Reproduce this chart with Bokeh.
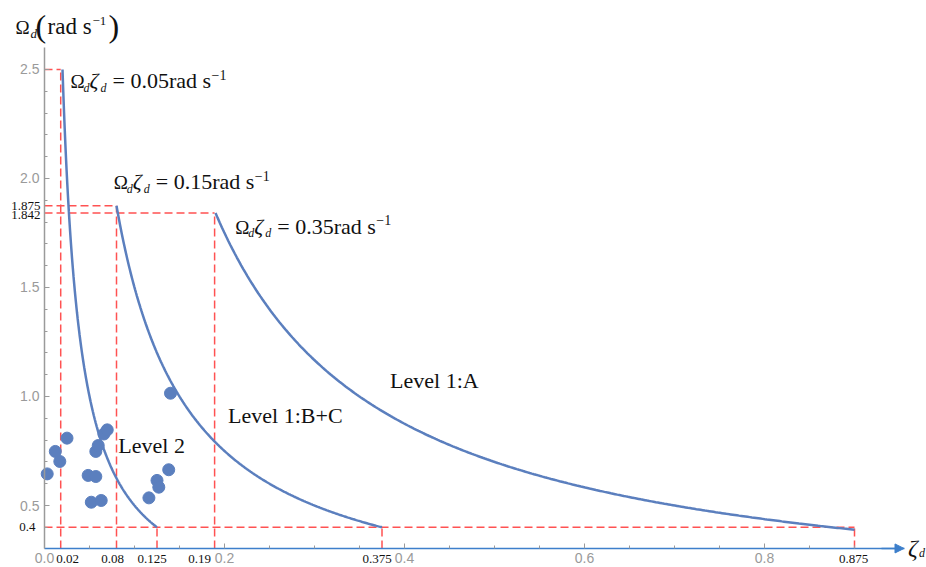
import numpy as np
from bokeh.plotting import figure
from bokeh.models import Range1d, FixedTicker, PrintfTickFormatter, Label, Arrow, NormalHead
from bokeh.embed import file_html
from bokeh.resources import INLINE

# ---------------- data ----------------
products = [0.05, 0.15, 0.35]            # Omega_d * zeta_d  (rad/s)
curve_zeta_start = [0.02, 0.08, 0.19]
curve_zeta_end = [0.125, 0.375, 0.9]

point_zeta = [0.003, 0.012, 0.017, 0.025, 0.0485, 0.057, 0.052, 0.063,
              0.057, 0.0597, 0.066, 0.0697, 0.116, 0.125, 0.127, 0.138, 0.140]
point_omega = [0.645, 0.748, 0.702, 0.809, 0.638, 0.633, 0.515, 0.523,
               0.748, 0.775, 0.828, 0.847, 0.535, 0.615, 0.584, 0.664, 1.015]

ref_v_zeta = [0.018, 0.08, 0.189, 0.125, 0.375, 0.9]
ref_v_top = [2.5, 1.875, 1.842, 0.4, 0.4, 0.4]
ref_h_omega = [2.5, 1.875, 1.842, 0.4]
ref_h_end = [0.018, 0.08, 0.189, 0.9]

x_ticks = [0.0, 0.2, 0.4, 0.6, 0.8]
x_minor = [0.05, 0.1, 0.15, 0.25, 0.3, 0.35, 0.45, 0.5, 0.55, 0.65, 0.7, 0.75, 0.85, 0.9]
y_ticks = [0.5, 1.0, 1.5, 2.0, 2.5]
y_minor = [0.4, 0.6, 0.7, 0.8, 0.9, 1.1, 1.2, 1.3, 1.4, 1.6, 1.7, 1.8, 1.9, 2.1, 2.2, 2.3, 2.4]

x_ref_labels = ["0.02", "0.08", "0.19", "0.125", "0.375", "0.875"]
y_ref_values = [1.875, 1.842, 0.4]
y_ref_labels = ["1.875", "1.842", "0.4"]

# axis extents
AX_X0, AX_X1 = 0.0, 0.955
AX_Y0, AX_Y1 = 0.303, 2.6

BLUE = "#5b7fbe"
AXIS_BLUE = "#3d7fcb"
RED = "#ff5252"
GRAY = "#9a9a9a"
SERIF = "Liberation Serif"

p = figure(width=926, height=567, output_backend="svg", toolbar_location=None,
           x_range=Range1d(-0.0489, 0.98), y_range=Range1d(0.2156, 2.8165),
           min_border=0)
p.outline_line_color = None
p.grid.visible = False
p.background_fill_color = "white"

# axes (drawn inside the frame at fixed data locations)
p.xaxis.fixed_location = AX_Y0
p.yaxis.fixed_location = AX_X0
p.xaxis.bounds = (AX_X0, AX_X1)
p.yaxis.bounds = (AX_Y0, AX_Y1)
p.xaxis.ticker = FixedTicker(ticks=x_ticks, minor_ticks=x_minor)
p.yaxis.ticker = FixedTicker(ticks=y_ticks, minor_ticks=y_minor)
p.xaxis.formatter = PrintfTickFormatter(format="%.1f")
p.yaxis.formatter = PrintfTickFormatter(format="%.1f")
for ax in (p.xaxis, p.yaxis):
    ax.major_tick_out = 0
    ax.major_tick_in = 5
    ax.minor_tick_out = 0
    ax.minor_tick_in = 3
    ax.major_tick_line_color = GRAY
    ax.minor_tick_line_color = GRAY
    ax.major_label_text_color = GRAY
    ax.major_label_text_font = "Liberation Sans"
    ax.major_label_text_font_size = "14px"
    ax.major_label_standoff = 5
p.yaxis.axis_line_color = GRAY
p.yaxis.axis_line_width = 1.5
p.xaxis.axis_line_color = AXIS_BLUE
p.xaxis.axis_line_width = 1.5

# reference dashed lines
p.segment(x0=ref_v_zeta, y0=[AX_Y0] * len(ref_v_zeta), x1=ref_v_zeta, y1=ref_v_top,
          line_color=RED, line_width=1.5, line_dash="8 4")
p.segment(x0=[AX_X0] * len(ref_h_omega), y0=ref_h_omega, x1=ref_h_end, y1=ref_h_omega,
          line_color=RED, line_width=1.5, line_dash="8 4")

# curves Omega*zeta = const
for c, zs, ze in zip(products, curve_zeta_start, curve_zeta_end):
    z = np.linspace(zs, ze, 300)
    p.line(z, c / z, line_color=BLUE, line_width=2.5)

# points
p.scatter(point_zeta, point_omega, size=12, fill_color=BLUE, line_color=BLUE)

# x-axis arrow
p.add_layout(Arrow(end=NormalHead(size=9, fill_color=AXIS_BLUE, line_color=AXIS_BLUE),
                   x_start=0.93, y_start=AX_Y0, x_end=AX_X1, y_end=AX_Y0,
                   line_color=AXIS_BLUE, line_width=1.5))


def rich(x, y, parts, color="#111111", k=0.32):
    for txt, dx, dy, size, style in parts:
        p.add_layout(Label(x=x, y=y, x_offset=dx, y_offset=dy + round(k * size), text=txt,
                           text_font=SERIF, text_font_size=f"{size}px",
                           text_font_style=style, text_baseline="alphabetic",
                           text_color=color))


def eq(x, y, val):
    rich(x, y, [("Ω", 0, 0, 19, "normal"), ("d", 13, -4, 12, "italic"),
                ("ζ", 19, 0, 22, "italic"), ("d", 30, -4, 12, "italic"),
                (f"= {val}rad s", 42, 0, 22, "normal"), ("−1", 141, 9, 14, "normal")])


eq(0.029, 2.417, "0.05")
eq(0.077, 1.954, "0.15")
eq(0.212, 1.748, "0.35")

rich(0.384, 1.041, [("Level 1:A", 0, 0, 22, "normal")])
rich(0.204, 0.881, [("Level 1:B+C", 0, 0, 22, "normal")])
rich(0.082, 0.743, [("Level 2", 0, 0, 22, "normal")])

# y-axis title
rich(-0.0322, 2.665, [("Ω", 0, 0, 19, "normal"), ("d", 15, -4, 13, "italic"),
                      ("(", 20, -2, 32, "normal"), ("rad s", 32, 0, 23, "normal"),
                      ("−1", 77, 9, 13, "normal"), (")", 93, -2, 32, "normal")])

# x-axis title
rich(AX_X1, AX_Y0, [("ζ", 4, 0, 24, "italic"), ("d", 15, -5, 12, "italic")], k=0)

# hand-written reference tick labels
x_lab_dx = [7, -4, -15, -5, -5, -1]
for v, t, dx in zip([0.018, 0.08, 0.189, 0.125, 0.375, 0.9], x_ref_labels, x_lab_dx):
    p.add_layout(Label(x=v, y=AX_Y0, x_offset=dx, y_offset=-7, text=t, text_font=SERIF,
                       text_font_size="13px", text_align="center", text_baseline="top",
                       text_color="#111111"))
y_lab_dx = [-4, -4, -9]
y_lab_dy = [0, -2, 0]
for v, t, dx, dy in zip(y_ref_values, y_ref_labels, y_lab_dx, y_lab_dy):
    p.add_layout(Label(x=AX_X0, y=v, x_offset=dx, y_offset=dy, text=t, text_font=SERIF,
                       text_font_size="13px", text_align="right", text_baseline="middle",
                       text_color="#111111"))

open("out.html", "w").write(file_html(p, INLINE))
